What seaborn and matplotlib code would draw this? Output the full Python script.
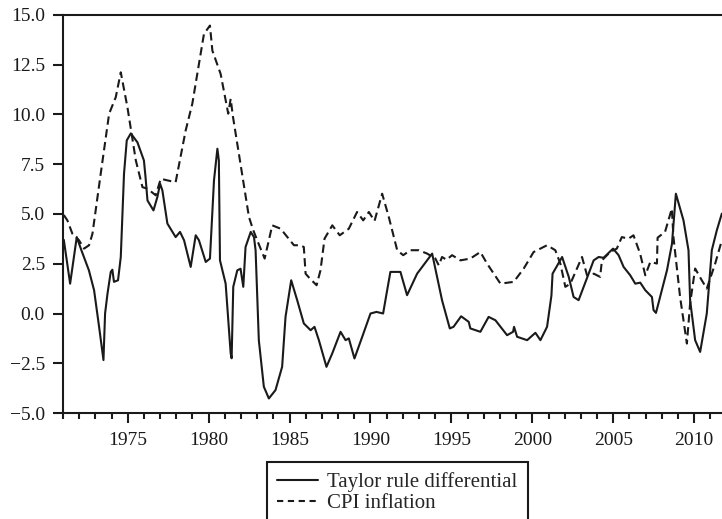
import numpy as np
import pandas as pd
import matplotlib
matplotlib.use("Agg")
import matplotlib.pyplot as plt
import seaborn as sns
from matplotlib.ticker import MultipleLocator
from matplotlib.lines import Line2D

# ---- data ----
taylor_years = [1971.05, 1971.44, 1971.85, 1972.14, 1972.6, 1972.92, 1973.23, 1973.5, 1973.6,
                1973.75, 1973.95, 1974.05, 1974.15, 1974.4, 1974.57, 1974.77, 1974.94, 1975.19,
                1975.6, 1976.0, 1976.1, 1976.22, 1976.59, 1976.83, 1977.0, 1977.14, 1977.45,
                1977.96, 1978.23, 1978.48, 1978.89, 1979.2, 1979.4, 1979.82, 1980.08, 1980.33,
                1980.54, 1980.63, 1980.7, 1981.05, 1981.36, 1981.42, 1981.52, 1981.77, 1981.97,
                1982.14, 1982.28, 1982.6, 1982.8, 1982.9, 1983.1, 1983.41, 1983.72, 1984.13,
                1984.54, 1984.75, 1985.1, 1985.47, 1985.88, 1986.3, 1986.54, 1986.81, 1987.28,
                1987.64, 1988.15, 1988.46, 1988.66, 1989.01, 1989.49, 1990.0, 1990.37, 1990.78,
                1991.03, 1991.23, 1991.85, 1992.26, 1992.88, 1993.81, 1994.42, 1994.9, 1995.13,
                1995.6, 1996.07, 1996.17, 1996.79, 1997.3, 1997.72, 1998.44, 1998.81, 1998.87,
                1999.06, 1999.68, 2000.19, 2000.5, 2000.91, 2001.18, 2001.25, 2001.84, 2002.25,
                2002.55, 2002.86, 2003.48, 2003.79, 2004.1, 2004.4, 2004.99, 2005.33, 2005.64,
                2006.05, 2006.36, 2006.67, 2006.98, 2007.39, 2007.49, 2007.64, 2008.32, 2008.63,
                2008.87, 2009.34, 2009.65, 2009.75, 2010.06, 2010.37, 2010.78, 2011.09, 2011.4,
                2011.71]
taylor_values = [3.7, 1.5, 3.84, 3.17, 2.17, 1.17, -0.67, -2.34, 0.0,
                 1.0, 2.09, 2.2, 1.59, 1.67, 2.84, 7.02, 8.7, 9.05,
                 8.6, 7.69, 6.85, 5.68, 5.18, 5.85, 6.52, 6.19, 4.52,
                 3.84, 4.1, 3.68, 2.34, 3.93, 3.68, 2.59, 2.76, 6.69,
                 8.28, 7.69, 2.67, 1.5, -2.0, -2.25, 1.34, 2.17, 2.25,
                 1.34, 3.34, 4.1, 3.84, 3.18, -1.34, -3.68, -4.27, -3.85,
                 -2.68, -0.17, 1.67, 0.67, -0.5, -0.84, -0.67, -1.34, -2.68,
                 -2.0, -0.92, -1.34, -1.25, -2.26, -1.17, 0.0, 0.08, 0.0,
                 1.17, 2.09, 2.09, 0.92, 2.0, 3.01, 0.67, -0.75, -0.67,
                 -0.14, -0.42, -0.75, -0.92, -0.17, -0.34, -1.09, -0.92, -0.67,
                 -1.17, -1.34, -0.97, -1.34, -0.67, 0.9, 2.0, 2.84, 1.84,
                 0.83, 0.67, 2.0, 2.67, 2.84, 2.8, 3.26, 2.93, 2.34,
                 1.92, 1.5, 1.55, 1.17, 0.83, 0.17, 0.03, 2.17, 3.51,
                 6.02, 4.68, 3.18, 0.67, -1.34, -1.93, 0.0, 3.18, 4.18,
                 5.02]

cpi_years = [1971.05, 1971.27, 1971.58, 1971.99, 1972.3, 1972.61, 1972.82, 1973.33, 1973.85,
             1974.26, 1974.57, 1974.98, 1975.5, 1975.91, 1976.22, 1976.73, 1977.04, 1977.45,
             1977.96, 1978.58, 1978.99, 1979.71, 1980.08, 1980.23, 1980.74, 1981.21, 1981.36,
             1981.5, 1982.49, 1982.75, 1983.0, 1983.46, 1983.93, 1984.45, 1985.27, 1985.68,
             1985.88, 1985.99, 1986.25, 1986.67, 1986.91, 1987.16, 1987.64, 1988.1, 1988.66,
             1989.17, 1989.55, 1989.9, 1990.25, 1990.72, 1991.13, 1991.65, 1992.02, 1992.47,
             1992.98, 1993.5, 1994.01, 1994.22, 1994.42, 1994.7, 1995.04, 1995.56, 1996.17,
             1996.79, 1997.2, 1998.03, 1998.85, 1999.47, 2000.08, 2000.91, 2001.42, 2001.73,
             2002.04, 2002.35, 2003.07, 2003.38, 2003.8, 2004.19, 2004.3, 2004.81, 2005.22,
             2005.53, 2005.94, 2006.25, 2006.66, 2006.98, 2007.29, 2007.7, 2007.74, 2008.2,
             2008.62, 2008.72, 2009.13, 2009.55, 2009.75, 2010.06, 2010.47, 2010.78, 2011.3,
             2011.71]
cpi_values = [4.95, 4.68, 4.01, 3.68, 3.26, 3.43, 4.01, 7.02, 10.04,
              10.87, 12.12, 10.37, 7.69, 6.35, 6.27, 5.94, 6.77, 6.69,
              6.6, 9.2, 10.54, 14.05, 14.47, 13.21, 12.04, 10.04, 10.79,
              9.9, 4.85, 4.2, 3.68, 2.76, 4.43, 4.26, 3.43, 3.43,
              3.34, 2.0, 1.76, 1.42, 2.17, 3.76, 4.43, 3.93, 4.26,
              5.1, 4.68, 5.1, 4.65, 6.02, 4.85, 3.18, 2.93, 3.18,
              3.18, 3.01, 2.76, 2.42, 2.84, 2.7, 2.93, 2.67, 2.76,
              3.09, 2.51, 1.5, 1.59, 2.26, 3.09, 3.43, 3.18, 2.51,
              1.34, 1.5, 2.84, 1.92, 2.0, 1.84, 2.67, 3.09, 3.26,
              3.84, 3.76, 3.93, 3.01, 1.92, 2.59, 2.51, 3.81, 4.1,
              5.27, 3.84, 0.83, -1.51, 0.5, 2.26, 1.67, 1.25, 2.51,
              3.68]

series_names = ["Taylor rule differential", "CPI inflation"]
y_ticks = [-5.0, -2.5, 0.0, 2.5, 5.0, 7.5, 10.0, 12.5, 15.0]
x_ticks = [1975, 1980, 1985, 1990, 1995, 2000, 2005, 2010]

df = pd.concat([
    pd.DataFrame({"year": taylor_years, "value": taylor_values, "series": series_names[0]}),
    pd.DataFrame({"year": cpi_years, "value": cpi_values, "series": series_names[1]}),
], ignore_index=True)

# ---- styling ----
sns.set_theme(style="ticks")
plt.rcParams["font.family"] = ["Liberation Serif", "DejaVu Serif"]
plt.rcParams["axes.linewidth"] = 1.5

fig = plt.figure(figsize=(7.22, 5.19), dpi=100)
ax = fig.add_axes([63 / 722, 1 - 413 / 519, 1 - 63 / 722, (413 - 15) / 519])

sns.lineplot(data=df, x="year", y="value", style="series",
             style_order=series_names,
             dashes={series_names[0]: "", series_names[1]: (4, 2.2)},
             color="#1a1a1a", linewidth=1.5, estimator=None, sort=False,
             legend=False, ax=ax)

ax.set_xlim(1971.0, 2011.72)
ax.set_ylim(-5, 15)
ax.set_xticks(x_ticks)
ax.xaxis.set_minor_locator(MultipleLocator(1))
ax.set_yticks(y_ticks)
ax.set_yticklabels([f"{v:.1f}".replace("-", "\u2212") for v in y_ticks])
ax.set_xlabel("")
ax.set_ylabel("")
ax.spines["right"].set_visible(False)
for s in ["left", "top", "bottom"]:
    ax.spines[s].set_color("#1a1a1a")
ax.tick_params(axis="both", labelsize=14, colors="#1a1a1a", width=1.5, direction="out")
ax.tick_params(axis="y", length=7, pad=6)
ax.tick_params(axis="x", which="major", length=7, pad=7)
ax.tick_params(axis="x", which="minor", length=4.5, width=1.5, colors="#1a1a1a")

handles = [Line2D([], [], color="#1a1a1a", lw=1.5, ls="-"),
           Line2D([], [], color="#1a1a1a", lw=1.5, ls=(0, (3, 2.2)))]
leg = fig.legend(handles, series_names, loc="upper left",
                 bbox_to_anchor=(267 / 722, 1 - 462 / 519), borderaxespad=0,
                 fontsize=15, frameon=True, fancybox=False, framealpha=1,
                 edgecolor="#1a1a1a", handlelength=1.95, handletextpad=0.45,
                 labelspacing=0.05, borderpad=0.5)
leg.get_frame().set_linewidth(1.5)

fig.savefig("out.png", dpi=100)
